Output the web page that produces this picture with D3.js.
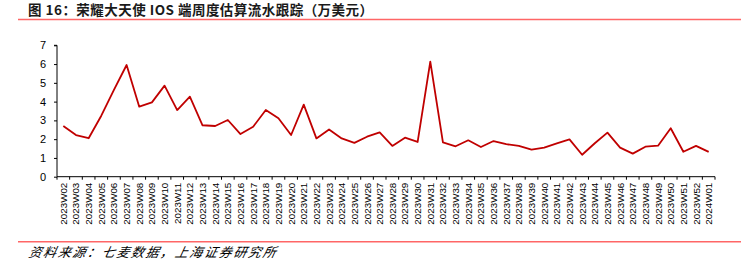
<!DOCTYPE html>
<html>
<head>
<meta charset="utf-8">
<script src="https://cdn.jsdelivr.net/npm/d3@7"></script>
<style>
  body { margin: 0; background: #fff; }
  svg { display: block; }
  .axis text { font-family: "Liberation Sans", Arial, sans-serif; fill: #000; }
  .axis path, .axis line { stroke: #000; stroke-width: 1; }
</style>
</head>
<body>
<div id="chart"></div>
<script>
const TITLE = '图 16：荣耀大天使 IOS 端周度估算流水跟踪（万美元）';
const SOURCE = '资料来源：七麦数据，上海证券研究所';

const weeks = [];
for (let i = 2; i <= 52; i++) weeks.push('2023W' + String(i).padStart(2, '0'));
weeks.push('2024W01');

const revenue = [
  2.70, 2.22, 2.05, 3.25, 4.62, 5.95, 3.73, 3.96, 4.85, 3.55,
  4.26, 2.74, 2.70, 3.02, 2.27, 2.66, 3.55, 3.11, 2.22, 3.84,
  2.04, 2.52, 2.04, 1.80, 2.13, 2.36, 1.64, 2.08, 1.85, 6.13,
  1.83, 1.62, 1.94, 1.58, 1.90, 1.73, 1.64, 1.44, 1.55, 1.78,
  1.99, 1.17, 1.78, 2.35, 1.55, 1.23, 1.60, 1.65, 2.58, 1.33,
  1.64, 1.32
];

const yTicks = [0, 1, 2, 3, 4, 5, 6, 7];

const WIDTH = 744;
const HEIGHT = 271;
const PLOT = {left: 57, right: 715, top: 45.3, bottom: 176.7};
const LINE_COLOR = '#c00000';
const RULE_COLOR = '#ff6666';

const svg = d3.select('#chart').append('svg')
    .attr('width', WIDTH)
    .attr('height', HEIGHT);

// title
svg.append('text')
    .attr('x', 28)
    .attr('y', 15)
    .attr('font-family', '"Noto Sans CJK SC", sans-serif')
    .attr('font-weight', 'bold')
    .attr('font-size', 13.5)
    .attr('fill', '#1a1a1a')
    .attr('textLength', 345)
    .attr('lengthAdjust', 'spacing')
    .text(TITLE);

// rules
svg.append('line')
    .attr('x1', 18).attr('x2', 741)
    .attr('y1', 19.5).attr('y2', 19.5)
    .attr('stroke', RULE_COLOR).attr('stroke-width', 1.5);
svg.append('line')
    .attr('x1', 18).attr('x2', 741)
    .attr('y1', 241.7).attr('y2', 241.7)
    .attr('stroke', RULE_COLOR).attr('stroke-width', 1.5);

// source
svg.append('text')
    .attr('x', 28)
    .attr('y', 257)
    .attr('font-family', '"Noto Sans CJK SC", sans-serif')
    .attr('font-style', 'italic')
    .attr('font-size', 13)
    .attr('fill', '#000')
    .attr('textLength', 247)
    .attr('lengthAdjust', 'spacing')
    .attr('transform', 'skewX(-12) translate(54.6,0)')
    .text(SOURCE);

const x = d3.scaleBand()
    .domain(weeks)
    .range([PLOT.left, PLOT.right])
    .padding(0);

const y = d3.scaleLinear()
    .domain([0, 7])
    .range([PLOT.bottom, PLOT.top]);

// y axis
const yAxis = svg.append('g')
    .attr('class', 'axis')
    .attr('transform', `translate(${PLOT.left},0)`)
    .call(d3.axisLeft(y).tickValues(yTicks).tickSize(3).tickPadding(8)
        .tickFormat(d3.format('d')));
yAxis.select('.domain').attr('d', `M-3,${PLOT.top}H0V${PLOT.bottom}`);
yAxis.selectAll('text').attr('font-size', 11);

// x axis: ticks on band boundaries
const xAxis = svg.append('g')
    .attr('class', 'axis')
    .attr('transform', `translate(0,${PLOT.bottom})`);
xAxis.append('line')
    .attr('x1', PLOT.left).attr('x2', PLOT.right)
    .attr('y1', 0).attr('y2', 0);
const bounds = weeks.map(w => x(w)).concat([PLOT.right]);
xAxis.selectAll('line.tick')
    .data(bounds)
    .join('line')
    .attr('class', 'tick')
    .attr('x1', d => d).attr('x2', d => d)
    .attr('y1', 0).attr('y2', 3);
xAxis.selectAll('text')
    .data(weeks)
    .join('text')
    .attr('transform', d => `translate(${x(d) + x.bandwidth() / 2 + 3.5},6) rotate(-90)`)
    .attr('text-anchor', 'end')
    .attr('font-size', 9.8)
    .text(d => d);

// line
const line = d3.line()
    .x((d, i) => x(weeks[i]) + x.bandwidth() / 2)
    .y(d => y(d));

svg.append('path')
    .datum(revenue)
    .attr('fill', 'none')
    .attr('stroke', LINE_COLOR)
    .attr('stroke-width', 1.8)
    .attr('stroke-linejoin', 'round')
    .attr('d', line);
</script>
</body>
</html>
